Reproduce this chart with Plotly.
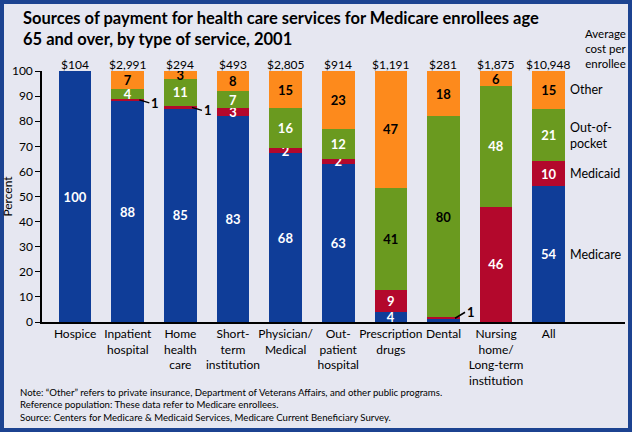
import plotly.graph_objects as go

# data
categories = ["Hospice", "Inpatient<br>hospital", "Home<br>health<br>care",
              "Short-<br>term<br>institution", "Physician/<br>Medical",
              "Out-<br>patient<br>hospital", "Prescription<br>drugs", "Dental",
              "Nursing<br>home/<br>Long-term<br>institution", "All"]
avg_cost = ["$104", "$2,991", "$294", "$493", "$2,805", "$914", "$1,191",
            "$281", "$1,875", "$10,948"]
medicare = [100, 88, 85, 83, 68, 63, 4, 1, 0, 54]
medicaid = [0, 1, 1, 3, 2, 2, 9, 1, 46, 10]
out_of_pocket = [0, 4, 11, 7, 16, 12, 41, 80, 48, 21]
other = [0, 7, 3, 8, 15, 23, 47, 18, 6, 15]
# segments too thin for an inside label, labelled with a leader line instead
callouts = [1, 2, 7]

W, H = 632, 432
L, R, T, B = 42, 7, 71, 110
FONT = "Lato"
BG = "#e6e7f1"
FRAME = "#1c4391"


def paper_x(px):
    return (px - L) / (W - L - R)


def paper_y(py):
    return (H - B - py) / (H - T - B)


totals = [a + b + c + d for a, b, c, d in zip(medicare, medicaid, out_of_pocket, other)]

series = [
    ("Medicare", medicare, "#0f3d98", ["white"] * 10),
    ("Medicaid", medicaid, "#b3082c", ["white"] * 10),
    ("Out-of-<br>pocket", out_of_pocket, "#6a9a1f",
     ["white", "white", "white", "white", "white", "white", "black", "black", "white", "white"]),
    ("Other", other, "#fd8a1c", ["black"] * 10),
]

fig = go.Figure()
x = list(range(len(categories)))
for name, vals, color, txtcol in series:
    heights = [v * 100 / t for v, t in zip(vals, totals)]
    text = [str(v) if v >= 2 and not (name == "Medicare" and i == 7) else "" for i, v in enumerate(vals)]
    fig.add_trace(go.Bar(
        x=x, y=heights, name=name, marker_color=color, marker_line_width=0,
        width=0.62, text=text, textposition="inside", insidetextanchor="middle",
        textangle=0, textfont=dict(family=FONT, size=13, color=txtcol, weight="bold"),
        hoverinfo="skip", showlegend=False,
    ))

# leader-line labels for the 1% Medicaid slivers
for i in callouts:
    ymid = (medicare[i] + medicaid[i] / 2) * 100 / totals[i]
    fig.add_annotation(
        x=i + 0.22, y=ymid, xref="x", yref="y", text="<b>1</b>",
        showarrow=True, arrowhead=0, arrowwidth=1.5, arrowcolor="black",
        ax=10, ay=3 if i != 7 else -6, xanchor="left",
        font=dict(family=FONT, size=13, color="black"),
    )

# average cost labels above bars
for i, c in enumerate(avg_cost):
    fig.add_annotation(x=i, y=100, xref="x", yref="y", text=c, showarrow=False,
                       yanchor="bottom", yshift=-3,
                       font=dict(family=FONT, size=12, color="black"))

# series names beside the "All" bar
base = 0
last = len(categories) - 1
for name, vals, color, _ in series:
    mid = (base + vals[last] / 2) * 100 / totals[last]
    base += vals[last]
    fig.add_annotation(x=paper_x(568), y=mid, xref="paper", yref="y", text=name,
                       showarrow=False, xanchor="left", align="left",
                       font=dict(family=FONT, size=12.5, color="black"))

fig.add_annotation(x=paper_x(606), y=paper_y(72), xref="paper", yref="paper",
                   text="Average<br>cost per<br>enrollee", showarrow=False,
                   xanchor="center", yanchor="bottom", align="center",
                   font=dict(family=FONT, size=11.5, color="black"))

fig.add_annotation(
    x=paper_x(21), y=paper_y(6), xref="paper", yref="paper",
    text="<b>Sources of payment for health care services for Medicare enrollees age<br>65 and over, by type of service, 2001</b>",
    showarrow=False, xanchor="left", yanchor="top", align="left",
    font=dict(family=FONT, size=16.5, color="black"),
)

fig.add_annotation(
    x=paper_x(18), y=paper_y(385), xref="paper", yref="paper",
    text=("Note: \u201cOther\u201d refers to private insurance, Department of Veterans Affairs, and other public programs.<br>"
          "Reference population: These data refer to Medicare enrollees.<br>"
          "Source: Centers for Medicare & Medicaid Services, Medicare Current Beneficiary Survey."),
    showarrow=False, xanchor="left", yanchor="top", align="left",
    font=dict(family=FONT, size=9.6, color="black"),
)

# dark blue frame: paper is frame colour, light panel drawn over it
fig.add_shape(type="rect", xref="paper", yref="paper",
              x0=paper_x(4), x1=paper_x(W - 4), y0=paper_y(H - 4), y1=paper_y(4),
              line=dict(width=0), fillcolor=BG, layer="below")

fig.update_layout(
    width=W, height=H,
    margin=dict(l=L, r=R, t=T, b=B, autoexpand=False),
    barmode="stack",
    paper_bgcolor=FRAME, plot_bgcolor=BG,
    font=dict(family=FONT, size=12, color="black"),
    uniformtext=dict(minsize=13, mode="show"),
    xaxis=dict(
        range=[-0.63, 10.45], tickvals=x, ticktext=categories, tickangle=0,
        showline=True, linecolor="black", linewidth=1.5, ticks="",
        showgrid=False, zeroline=False, tickfont=dict(size=12), automargin=False,
    ),
    yaxis=dict(
        range=[0, 100], dtick=10, showline=True, linecolor="black", linewidth=1.5,
        ticks="outside", ticklen=5, tickcolor="black", showgrid=False, zeroline=False,
        title=dict(text="Percent", standoff=4, font=dict(size=12)),
        tickfont=dict(size=12), automargin=False,
    ),
)

# no page margin, so the figure sits at the window's corner
fig.write_html("out.html", config={"displayModeBar": False},
               post_script="document.body.style.margin='0';")
